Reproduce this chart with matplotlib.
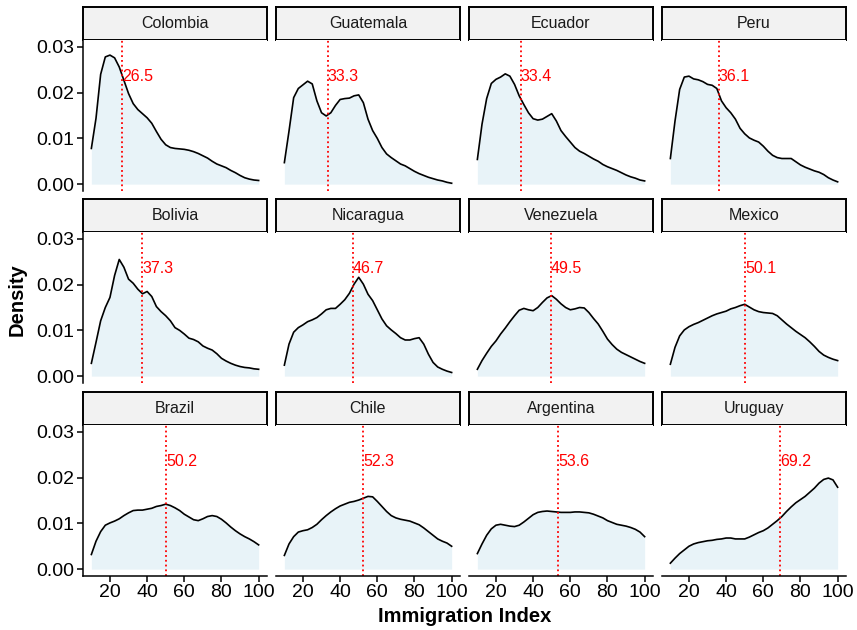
import numpy as np
import matplotlib
matplotlib.use("Agg")
from matplotlib import pyplot as plt

plt.rcParams['font.family'] = ['Liberation Sans', 'DejaVu Sans']

countries = ['Colombia', 'Guatemala', 'Ecuador', 'Peru',
             'Bolivia', 'Nicaragua', 'Venezuela', 'Mexico',
             'Brazil', 'Chile', 'Argentina', 'Uruguay']
means = [26.5, 33.3, 33.4, 36.1, 37.3, 46.7, 49.5, 50.1, 50.2, 52.3, 53.6, 69.2]

# points along the immigration index where the curves were read
index_pts = [10, 12.5, 15, 17.5, 20, 22.5, 25, 27.5, 30, 32.5, 35, 37.5, 40,
             42.5, 45, 47.5, 50, 52.5, 55, 57.5, 60, 62.5, 65, 67.5, 70,
             72.5, 75, 77.5, 80, 82.5, 85, 87.5, 90, 92.5, 95, 97.5, 100]

# density values, in units of 0.001
colombia = [7.8, 14.4, 24.0, 27.8, 28.2, 27.6, 25.6, 22.7, 19.8, 17.6, 16.3, 15.4, 14.5,
            13.3, 11.5, 9.8, 8.6, 8.0, 7.8, 7.7, 7.6, 7.4, 7.1, 6.7, 6.2,
            5.7, 5.0, 4.4, 4.0, 3.6, 3.0, 2.5, 1.9, 1.4, 1.1, 0.9, 0.8]
guatemala = [4.7, 11.6, 18.9, 20.9, 21.7, 22.5, 21.9, 18.2, 15.6, 14.9, 15.6, 17.2, 18.5,
             18.7, 18.8, 19.3, 19.5, 17.8, 14.2, 11.7, 10.0, 8.0, 6.6, 5.8, 5.1,
             4.4, 4.0, 3.4, 2.8, 2.3, 1.9, 1.5, 1.2, 0.9, 0.7, 0.4, 0.2]
ecuador = [5.4, 13.1, 18.7, 22.0, 22.9, 23.4, 24.1, 23.6, 21.8, 19.3, 17.4, 15.6, 14.3,
           14.0, 14.2, 14.8, 15.4, 13.8, 11.7, 10.4, 9.2, 8.0, 7.2, 6.7, 6.1,
           5.5, 5.0, 4.3, 3.8, 3.4, 3.0, 2.5, 2.0, 1.6, 1.3, 0.9, 0.7]
peru = [5.6, 13.8, 20.7, 23.4, 23.6, 23.0, 22.8, 22.4, 21.8, 21.6, 20.9, 18.2, 16.7,
        15.6, 14.2, 12.2, 11.0, 10.1, 9.6, 9.2, 8.3, 7.2, 6.3, 5.8, 5.6,
        5.6, 5.6, 4.9, 4.2, 3.7, 3.3, 2.9, 2.6, 2.1, 1.4, 0.9, 0.5]
bolivia = [2.8, 7.4, 12.1, 15.0, 17.2, 22.0, 25.5, 23.8, 21.2, 20.3, 19.0, 18.0, 18.5,
           17.4, 15.2, 14.1, 13.2, 12.1, 10.6, 10.0, 9.2, 8.3, 8.0, 7.5, 6.6,
           6.1, 5.7, 4.9, 3.9, 3.3, 2.8, 2.4, 2.1, 1.9, 1.8, 1.6, 1.5]
nicaragua = [2.4, 7.0, 9.6, 10.6, 11.2, 11.9, 12.3, 12.8, 13.6, 14.5, 14.8, 14.8, 15.7,
             16.7, 18.1, 20.1, 21.6, 20.1, 17.9, 16.5, 14.5, 12.5, 11.0, 10.1, 9.3,
             8.4, 7.9, 7.9, 8.2, 8.4, 7.0, 4.8, 3.0, 2.0, 1.5, 1.1, 0.8]
venezuela = [1.5, 3.4, 5.0, 6.5, 7.7, 9.2, 10.5, 11.9, 13.2, 14.4, 14.8, 14.5, 14.3,
             15.0, 16.1, 17.1, 17.6, 16.8, 15.8, 15.0, 14.5, 14.7, 15.0, 14.9, 13.9,
             12.6, 11.4, 9.8, 8.1, 6.9, 5.9, 5.2, 4.7, 4.2, 3.7, 3.2, 2.8]
mexico = [2.6, 6.3, 8.8, 10.1, 10.8, 11.3, 11.7, 12.2, 12.7, 13.2, 13.6, 13.9, 14.2,
          14.7, 15.0, 15.4, 15.7, 15.1, 14.5, 14.1, 13.9, 13.8, 13.7, 13.2, 12.3,
          11.4, 10.6, 9.8, 9.1, 8.4, 7.5, 6.5, 5.4, 4.6, 4.1, 3.7, 3.4]
brazil = [3.2, 6.1, 8.2, 9.6, 10.1, 10.5, 11.0, 11.7, 12.3, 12.8, 12.9, 12.9, 13.1,
          13.3, 13.7, 13.9, 14.2, 13.9, 13.4, 12.8, 12.0, 11.4, 10.8, 10.6, 11.0,
          11.5, 11.7, 11.5, 10.9, 10.1, 9.2, 8.4, 7.7, 7.1, 6.6, 6.0, 5.3]
chile = [3.0, 5.5, 7.1, 8.1, 8.4, 8.6, 9.1, 9.8, 10.8, 11.7, 12.5, 13.2, 13.8,
         14.2, 14.6, 14.8, 15.1, 15.5, 15.9, 15.8, 14.8, 13.7, 12.6, 11.7, 11.2,
         10.9, 10.7, 10.5, 10.1, 9.7, 9.0, 8.2, 7.4, 6.6, 6.1, 5.7, 5.0]
argentina = [3.4, 5.5, 7.4, 8.8, 9.6, 9.8, 9.6, 9.4, 9.3, 9.6, 10.3, 11.1, 11.9,
             12.4, 12.6, 12.7, 12.6, 12.5, 12.4, 12.4, 12.4, 12.5, 12.5, 12.4, 12.3,
             12.0, 11.6, 11.2, 10.6, 10.2, 9.8, 9.6, 9.4, 9.1, 8.7, 8.1, 7.1]
uruguay = [1.3, 2.4, 3.4, 4.2, 5.0, 5.5, 5.8, 6.0, 6.2, 6.3, 6.5, 6.6, 6.8,
           6.8, 6.6, 6.6, 6.6, 7.0, 7.5, 8.0, 8.4, 9.0, 9.8, 10.6, 11.5,
           12.6, 13.6, 14.5, 15.2, 15.9, 16.8, 17.7, 18.8, 19.6, 19.9, 19.5, 17.9]

curves = [colombia, guatemala, ecuador, peru, bolivia, nicaragua,
          venezuela, mexico, brazil, chile, argentina, uruguay]

W, H = 857, 630
fig = plt.figure(figsize=(W / 100, H / 100), dpi=100)

col_x = [83, 276, 469, 662]
row_y = [7, 199, 392]
pw, strip_h, panel_h = 184, 33, 151


def px_axes(x, y, w, h):
    # pixel box (from top-left) -> figure fraction
    return fig.add_axes([x / W, 1 - (y + h) / H, w / W, h / H])


xs = np.array(index_pts)
for i, name in enumerate(countries):
    r, c = divmod(i, 4)
    x0, y0 = col_x[c], row_y[r]

    # facet strip
    st = px_axes(x0, y0, pw, strip_h)
    st.set_facecolor('#F2F2F2')
    st.set_xticks([])
    st.set_yticks([])
    for sp in st.spines.values():
        sp.set_color('black')
        sp.set_linewidth(1.4)
    st.text(0.5, 0.5, name, ha='center', va='center', fontsize=11.5,
            color='#1A1A1A', transform=st.transAxes)

    ax = px_axes(x0, y0 + strip_h, pw, panel_h)
    dens = np.array(curves[i]) / 1000
    ax.fill_between(xs, 0, dens, color='#E8F3F8', lw=0)
    ax.plot(xs, dens, color='black', lw=1.2)
    ax.axvline(means[i], color='red', ls=':', lw=1.3)
    ax.text(means[i], 0.0235, f'{means[i]:.1f}', color='red', fontsize=11.5,
            ha='left', va='center')

    ax.set_xlim(5.5, 104.5)
    ax.set_ylim(-0.0015, 0.0315)
    ax.spines['top'].set_visible(False)
    ax.spines['right'].set_visible(False)
    ax.spines['left'].set_visible(c == 0)
    ax.spines['bottom'].set_visible(r == 2)
    for sp in ('left', 'bottom'):
        ax.spines[sp].set_linewidth(1.1)

    if c == 0:
        ax.set_yticks([0, 0.01, 0.02, 0.03])
        ax.set_yticklabels(['0.00', '0.01', '0.02', '0.03'])
        ax.tick_params(axis='y', length=4, width=1.1, labelsize=14, pad=2)
    else:
        ax.tick_params(axis='y', left=False, labelleft=False)
    if r == 2:
        ax.set_xticks([20, 40, 60, 80, 100])
        ax.tick_params(axis='x', length=4, width=1.1, labelsize=14, pad=2)
    else:
        ax.tick_params(axis='x', bottom=False, labelbottom=False)

fig.text(17 / W, 1 - 300 / H, 'Density', rotation=90, fontsize=14.5,
         fontweight='bold', ha='center', va='center')
fig.text(464.5 / W, 1 - 617 / H, 'Immigration Index', fontsize=14.5,
         fontweight='bold', ha='center', va='center')

fig.savefig('out.png', dpi=100)
